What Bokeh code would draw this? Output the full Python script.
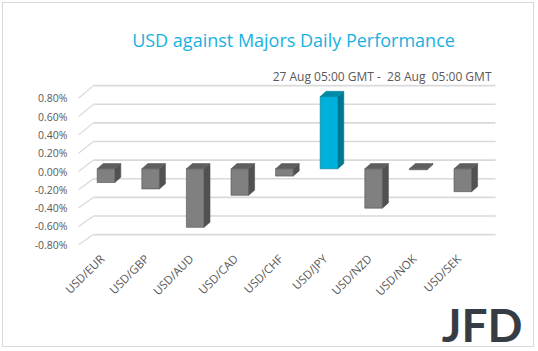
import math
from bokeh.plotting import figure
from bokeh.models import Range1d, FixedTicker, PrintfTickFormatter, Label
from bokeh.embed import file_html
from bokeh.resources import INLINE

# ---- data ----
pairs = ["USD/EUR", "USD/GBP", "USD/AUD", "USD/CAD", "USD/CHF",
         "USD/JPY", "USD/NZD", "USD/NOK", "USD/SEK"]
perf = [-0.15, -0.22, -0.64, -0.29, -0.08, 0.79, -0.43, -0.01, -0.25]
y_ticks = [-0.8, -0.6, -0.4, -0.2, 0.0, 0.2, 0.4, 0.6, 0.8]
title_text = "USD against Majors Daily Performance"
subtitle_text = "27 Aug 05:00 GMT -\u00a0 28 Aug\u00a0 05:00 GMT"
logo_text = "JFD"
highlight = "USD/JPY"

# ---- layout helpers (page pixels -> data) ----
OFF = 3  # margin + border
X0, XS = 105.5, 44.6   # page x of category 0, px per category
Y0, YS = 171.0, 91.5   # page y of 0 %, px per 1 %


def px_x(px):
    return (px - X0) / XS


def px_y(py):
    return (Y0 - py) / YS


W, H = 532, 345
x_start, x_end = px_x(OFF), px_x(OFF + W)
lab_shift = 4.0 / XS   # category labels sit slightly left of the bars (3D depth)

p = figure(width=W, height=H, output_backend="svg", toolbar_location=None,
           x_range=Range1d(x_start, x_end),
           y_range=Range1d(px_y(OFF + H), px_y(OFF)),
           min_border=0,
           background_fill_color="white", border_fill_color="white")
p.extra_x_ranges = {"labels": Range1d(x_start + lab_shift, x_end + lab_shift)}
p.styles = {"border": "1px solid #d9d9d9", "margin": "2px"}
p.outline_line_color = None
p.grid.visible = False

FONT = "Open Sans"
# axes (kept in side panels, drawn at fixed positions)
p.yaxis.fixed_location = px_x(78)
p.yaxis.ticker = FixedTicker(ticks=y_ticks)
p.yaxis.formatter = PrintfTickFormatter(format="%.2f%%")
p.yaxis.axis_line_color = None
p.yaxis.major_tick_line_color = None
p.yaxis.minor_tick_line_color = None
p.yaxis.major_tick_out = 0
p.yaxis.major_tick_in = 0
p.yaxis.major_label_standoff = 11
p.yaxis.major_label_text_font = FONT
p.yaxis.major_label_text_font_size = "10.5px"
p.yaxis.major_label_text_color = "#595959"

xax = p.xaxis[0]
xax.x_range_name = "labels"
xax.fixed_location = px_y(250)
xax.ticker = FixedTicker(ticks=list(range(len(pairs))))
xax.major_label_overrides = {i: s for i, s in enumerate(pairs)}
xax.major_label_orientation = math.pi / 4
xax.axis_line_color = None
xax.major_tick_line_color = None
xax.minor_tick_line_color = None
xax.major_tick_out = 0
xax.major_tick_in = 0
xax.major_label_standoff = 6
xax.major_label_text_font = FONT
xax.major_label_text_font_size = "11.5px"
xax.major_label_text_color = "#595959"

# ---- back wall gridlines + side diagonals ----
left_front = px_x(78)
left_back = px_x(93)
right_back = px_x(495)
back_y = [(11.4 + t * 93.1) / YS for t in y_ticks]
p.segment(x0=[left_back] * len(y_ticks), y0=back_y,
          x1=[right_back] * len(y_ticks), y1=back_y,
          line_color="#d9d9d9", line_width=1.6)
p.segment(x0=[left_front] * len(y_ticks), y0=y_ticks,
          x1=[left_back] * len(y_ticks), y1=back_y,
          line_color="#d9d9d9", line_width=1.2)

# ---- 3D bars ----
bw = 17.6 / XS
dx = 6.0 / XS
dy = 5.2 / YS
b0 = 2.7 / YS
front_c, side_c, top_c = [], [], []
side_xs, side_ys, top_xs, top_ys = [], [], [], []
bot, top = [], []
for i, (name, v) in enumerate(zip(pairs, perf)):
    lo = b0 + min(v, 0)
    hi = b0 + max(v, 0)
    bot.append(lo)
    top.append(hi)
    xl, xr = i - bw / 2, i + bw / 2
    side_xs.append([xr, xr + dx, xr + dx, xr])
    side_ys.append([lo, lo + dy, hi + dy, hi])
    top_xs.append([xl, xr, xr + dx, xl + dx])
    top_ys.append([hi, hi, hi + dy, hi + dy])
    if name == highlight:
        front_c.append("#00b0dc"); side_c.append("#00788f"); top_c.append("#0089a6")
    else:
        front_c.append("#808080"); side_c.append("#515151"); top_c.append("#5e5e5e")

p.patches(xs=side_xs, ys=side_ys, fill_color=side_c, line_color=side_c, line_width=0.6)
p.patches(xs=top_xs, ys=top_ys, fill_color=top_c, line_color=top_c, line_width=0.6)
p.vbar(x=list(range(len(pairs))), width=bw, bottom=bot, top=top,
       fill_color=front_c, line_color=side_c, line_width=0.6)

# ---- texts ----
p.add_layout(Label(x=px_x(293), y=px_y(39), text=title_text, text_align="center",
                   text_baseline="middle", text_font=FONT,
                   text_font_size="18px", text_color="#17b1df"))
p.add_layout(Label(x=px_x(491), y=px_y(76), text=subtitle_text, text_align="right",
                   text_baseline="middle", text_font=FONT,
                   text_font_size="12px", text_color="#595959"))
p.add_layout(Label(x=px_x(522), y=px_y(324), text=logo_text, text_align="right",
                   text_baseline="middle", text_font="Lato",
                   text_font_style="bold", text_font_size="46px",
                   text_color="#363c43"))

open("out.html", "w").write(file_html(p, INLINE))
